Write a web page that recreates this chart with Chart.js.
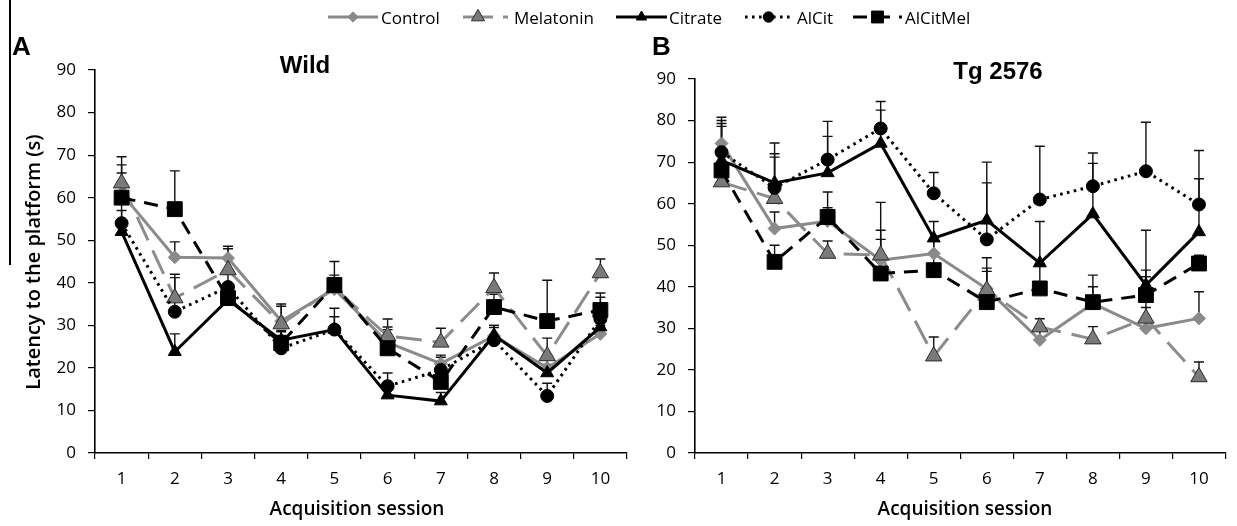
<!DOCTYPE html>
<html>
<head>
<meta charset="utf-8">
<title>Latency to the platform</title>
<script src="https://cdn.jsdelivr.net/npm/chart.js@4.4.0/dist/chart.umd.min.js"></script>
<style>
  body { margin: 0; background: #fff; font-family: 'Open Sans', sans-serif; }
  #page { position: relative; width: 1237px; height: 526px; overflow: hidden; background: #fff; }
  .panel { position: absolute; top: 0; height: 526px; }
  #wildBox { left: 0; width: 640px; }
  #tgBox { left: 640px; width: 597px; }
  .txt { position: absolute; white-space: nowrap; color: #000; line-height: 1; }
  .letter { font-family: 'Liberation Sans', Arial, sans-serif; font-weight: bold; font-size: 26px; }
  .title { font-family: 'Liberation Sans', Arial, sans-serif; font-weight: bold; font-size: 24px; transform: translate(-50%, -50%); }
  .xtitle { font-size: 19px; font-weight: 600; transform: translate(-50%, -50%); }
  .ytitle { font-size: 20px; font-weight: 600; transform: translate(-50%, -50%) rotate(-90deg); }
  .leg { font-size: 17px; transform: translateY(-50%); }
  #edge { position: absolute; left: 9px; top: 0; width: 1.5px; height: 265px; background: #000; }
  #legendSymbols { position: absolute; left: 0; top: 0; }
</style>
</head>
<body>
<div id="page">
  <div id="edge"></div>
  <canvas id="legendSymbols" width="1237" height="36"></canvas>
  <div class="txt leg" style="left:381px; top:17px;">Control</div>
  <div class="txt leg" style="left:514px; top:17px;">Melatonin</div>
  <div class="txt leg" style="left:669px; top:17px;">Citrate</div>
  <div class="txt leg" style="left:797px; top:17px;">AlCit</div>
  <div class="txt leg" style="left:905px; top:17px;">AlCitMel</div>

  <div class="panel" id="wildBox"><canvas id="wildChart"></canvas></div>
  <div class="panel" id="tgBox"><canvas id="tgChart"></canvas></div>

  <div class="txt letter" style="left:12px; top:33px;">A</div>
  <div class="txt letter" style="left:652px; top:33px;">B</div>
  <div class="txt title" style="left:305px; top:65px;">Wild</div>
  <div class="txt title" style="left:998px; top:71px;">Tg 2576</div>
  <div class="txt ytitle" style="left:33px; top:262px;">Latency to the platform (s)</div>
  <div class="txt xtitle" style="left:357px; top:508px;">Acquisition session</div>
  <div class="txt xtitle" style="left:965px; top:508px;">Acquisition session</div>
</div>

<script>
// sessions on the x axis
const sessions = ['1', '2', '3', '4', '5', '6', '7', '8', '9', '10'];
const seriesNames = ['Control', 'Melatonin', 'Citrate', 'AlCit', 'AlCitMel'];
const yMin = 0, yMax = 90, yStep = 10;

// Wild mice: mean latency (s) and SEM
const wildControl   = [61, 46, 45.8, 31, 38.5, 26, 21, 27.5, 20, 28];
const wildMelatonin = [63.4, 36.4, 43, 30.3, 38.8, 27.5, 26, 38.8, 22.8, 42.3];
const wildCitrate   = [52, 23.8, 36, 26.5, 29, 13.6, 12.2, 27.7, 18.8, 29.6];
const wildAlCit     = [54, 33.2, 39, 24.6, 29, 15.7, 19.5, 26.5, 13.4, 31.5];
const wildAlCitMel  = [60, 57.3, 36.4, 25.8, 39.5, 24.6, 16.7, 34.3, 31, 33.6];

const wildControlErr   = [4.8, 3.6, 2.8, 3.5, 2, 3, 2, 2.5, 2, 2];
const wildMelatoninErr = [6.2, 5.6, 5, 4.7, 3, 4, 3.3, 3.5, 4.2, 3.3];
const wildCitrateErr   = [5, 4.2, 2, 2, 3, 2, 2, 2.3, 2, 7];
const wildAlCitErr     = [5, 8, 3, 3, 5, 3.1, 3, 3, 3, 3];
const wildAlCitMelErr  = [7.7, 9, 2, 3, 5.5, 5, 4, 3, 9.6, 4];

// Tg2576 mice: mean latency (s) and SEM
const tgControl   = [74.5, 54, 55.8, 46.4, 48, 39.5, 27.2, 36, 30, 32.4];
const tgMelatonin = [65.2, 61.2, 48, 47.6, 23.3, 39.2, 30.3, 27.4, 32.4, 18.3];
const tgCitrate   = [70.4, 65, 67.4, 74.5, 51.7, 56, 45.7, 57.5, 40.4, 53.2];
const tgAlCit     = [72.4, 63.8, 70.6, 78.1, 62.5, 51.4, 61, 64.2, 67.8, 59.8];
const tgAlCitMel  = [68, 46, 56.8, 43.2, 44, 36.3, 39.6, 36.3, 38, 45.6];

const tgControlErr   = [6.3, 4, 3.2, 5, 3, 5, 3, 4, 5, 6.4];
const tgMelatoninErr = [4, 10, 3, 12.7, 4.6, 7.8, 2, 3, 10, 3.6];
const tgCitrateErr   = [8.9, 7, 8.8, 8, 4, 14, 10, 12.2, 13.2, 12.8];
const tgAlCitErr     = [7.6, 10.8, 9.2, 6.5, 5, 13.6, 12.8, 8, 11.8, 13];
const tgAlCitMelErr  = [10.6, 4, 6, 10.4, 7, 7.4, 6, 6.5, 6, 2];

// line and marker looks for each treatment
const looks = {
  Control:   { line: '#8a8a8a', dash: [], cap: 'butt', point: 'rectRot', r: 6.5, fill: '#8a8a8a', edge: '#8a8a8a', bw: 1 },
  Melatonin: { line: '#8c8c8c', dash: [26, 11], cap: 'butt', point: 'triangle', r: 9.5, fill: '#7a7a7a', edge: '#2a2a2a', bw: 1 },
  Citrate:   { line: '#000', dash: [], cap: 'butt', point: 'triangle', r: 7.5, fill: '#000', edge: '#000', bw: 1 },
  AlCit:     { line: '#000', dash: [2.6, 4.4], cap: 'butt', point: 'circle', r: 6.5, fill: '#000', edge: '#000', bw: 1 },
  AlCitMel:  { line: '#000', dash: [14, 9], cap: 'butt', point: 'rect', r: 10.5, fill: '#000', edge: '#000', bw: 1 }
};

function makeDatasets(values, errors) {
  return seriesNames.map((name, i) => {
    const lk = looks[name];
    return {
      label: name,
      data: values[i],
      errors: errors[i],
      borderColor: lk.line,
      borderWidth: 3,
      borderDash: lk.dash,
      borderCapStyle: lk.cap,
      pointStyle: lk.point,
      pointRadius: lk.r,
      pointBackgroundColor: lk.fill,
      pointBorderColor: lk.edge,
      pointBorderWidth: lk.bw,
      tension: 0,
      fill: false,
      order: seriesNames.length - i
    };
  });
}

// upper SEM whiskers with caps
const errorBars = {
  id: 'errorBars',
  beforeDatasetsDraw(chart) {
    const ctx = chart.ctx;
    const y = chart.scales.y;
    chart.data.datasets.forEach((ds, i) => {
      if (!ds.errors) return;
      const meta = chart.getDatasetMeta(i);
      ctx.save();
      ctx.strokeStyle = '#111';
      ctx.lineWidth = 1.4;
      meta.data.forEach((pt, k) => {
        const top = y.getPixelForValue(ds.data[k] + ds.errors[k]);
        ctx.beginPath();
        ctx.moveTo(pt.x, pt.y);
        ctx.lineTo(pt.x, top);
        ctx.moveTo(pt.x - 5, top);
        ctx.lineTo(pt.x + 5, top);
        ctx.stroke();
      });
      ctx.restore();
    });
  }
};

function makeChart(id, values, errors, pad, yWidth) {
  return new Chart(document.getElementById(id), {
    type: 'line',
    data: { labels: sessions, datasets: makeDatasets(values, errors) },
    options: {
      responsive: true,
      maintainAspectRatio: false,
      animation: false,
      layout: { padding: pad },
      plugins: { legend: { display: false }, tooltip: { enabled: false } },
      scales: {
        x: {
          offset: true,
          grid: { offset: true, drawOnChartArea: false, drawTicks: true, tickLength: 6, color: '#000', lineWidth: 1.2 },
          border: { color: '#000', width: 1.6 },
          ticks: { color: '#000', font: { family: 'Open Sans', size: 17 }, padding: 10, maxRotation: 0 },
          afterFit: s => { s.height = 73; }
        },
        y: {
          min: yMin,
          max: yMax,
          grid: { drawOnChartArea: false, drawTicks: true, tickLength: 7, color: '#000', lineWidth: 1.2 },
          border: { color: '#000', width: 1.6 },
          ticks: { stepSize: yStep, color: '#000', font: { family: 'Open Sans', size: 17 }, padding: 12 },
          afterFit: s => { s.width = yWidth; }
        }
      }
    },
    plugins: [errorBars]
  });
}

makeChart('wildChart',
  [wildControl, wildMelatonin, wildCitrate, wildAlCit, wildAlCitMel],
  [wildControlErr, wildMelatoninErr, wildCitrateErr, wildAlCitErr, wildAlCitMelErr],
  { top: 70, right: 13, left: 0, bottom: 0 }, 95);

makeChart('tgChart',
  [tgControl, tgMelatonin, tgCitrate, tgAlCit, tgAlCitMel],
  [tgControlErr, tgMelatoninErr, tgCitrateErr, tgAlCitErr, tgAlCitMelErr],
  { top: 79, right: 2, left: 0, bottom: 0 }, 55);

// legend symbols: a short line with the series marker
(function drawLegend() {
  const ctx = document.getElementById('legendSymbols').getContext('2d');
  const yc = 17;
  const spots = { Control: [328, 378], Melatonin: [463, 493], Citrate: [616, 667], AlCit: [745, 792], AlCitMel: [853, 902] };
  seriesNames.forEach(name => {
    const lk = looks[name];
    const [a, b] = spots[name];
    ctx.save();
    ctx.strokeStyle = lk.line;
    ctx.lineWidth = 3;
    ctx.setLineDash(name === 'Melatonin' ? [] : lk.dash);
    ctx.beginPath();
    ctx.moveTo(a, yc);
    ctx.lineTo(b, yc);
    ctx.stroke();
    if (name === 'Melatonin') {
      ctx.beginPath();
      ctx.moveTo(503, yc);
      ctx.lineTo(508, yc);
      ctx.stroke();
    }
    ctx.restore();

    ctx.save();
    ctx.fillStyle = lk.fill;
    ctx.strokeStyle = lk.edge;
    ctx.lineWidth = lk.bw;
    Chart.helpers.drawPoint(ctx, {
      pointStyle: lk.point,
      radius: lk.r * 0.8,
      borderWidth: lk.bw
    }, (a + b) / 2, yc);
    ctx.restore();
  });
})();
</script>
</body>
</html>
